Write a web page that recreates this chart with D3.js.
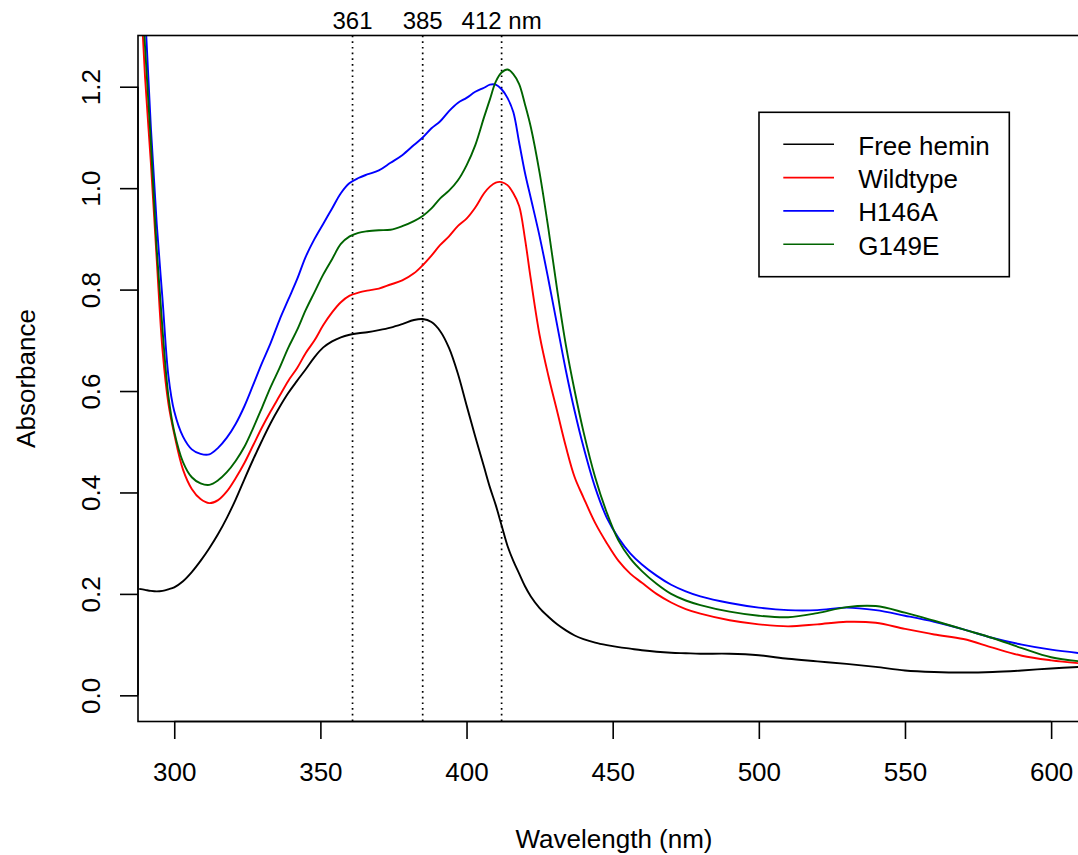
<!DOCTYPE html>
<html lang="en">
<head>
  <meta charset="UTF-8">
  <title>Absorbance spectra</title>
  <script src="https://d3js.org/d3.v7.min.js"></script>
  <style>
    body {
      margin: 0;
      background: #fff;
    }
    svg text {
      font-family: "Liberation Sans", Arial, Helvetica, sans-serif;
      fill: #000;
    }
  </style>
</head>
<body>
<svg width="1078" height="855"></svg>

<script>
  // shared wavelength grid (nm)
  const wavelength = [288, 290, 292, 294, 296, 298, 300, 303, 306, 309, 312, 315, 318, 321, 324, 327, 330, 333, 336, 339,
    342, 345, 348, 351, 354, 357, 360, 363, 366, 370, 374, 378, 382, 385, 388, 391, 394, 397, 400, 403, 406, 408, 410,
    412, 414, 416, 418, 420, 422, 425, 428, 431, 434, 437, 440, 444, 448, 452, 456, 460, 465, 470, 475, 480, 490, 500,
    510, 520, 530, 540, 550, 560, 570, 580, 590, 600, 610];

  const freeHemin = [0.210, 0.208, 0.206, 0.205, 0.206, 0.209, 0.213, 0.225, 0.243, 0.265, 0.290, 0.318, 0.350, 0.386,
    0.426, 0.465, 0.502, 0.537, 0.568, 0.596, 0.620, 0.643, 0.667, 0.686, 0.698, 0.706, 0.711, 0.714, 0.716, 0.720,
    0.725, 0.732, 0.740, 0.742, 0.736, 0.718, 0.685, 0.635, 0.572, 0.510, 0.450, 0.410, 0.375, 0.335, 0.295, 0.265,
    0.240, 0.215, 0.195, 0.172, 0.155, 0.140, 0.128, 0.118, 0.111, 0.104, 0.099, 0.095, 0.092, 0.089, 0.086, 0.084,
    0.083, 0.082, 0.082, 0.079, 0.072, 0.067, 0.062, 0.056, 0.049, 0.046, 0.045, 0.046, 0.049, 0.053, 0.056];

  const wildtype = [1.45, 1.22, 1.05, 0.86, 0.68, 0.575, 0.515, 0.445, 0.407, 0.387, 0.379, 0.385, 0.402, 0.428, 0.458,
    0.493, 0.528, 0.560, 0.590, 0.620, 0.645, 0.675, 0.700, 0.730, 0.755, 0.775, 0.788, 0.794, 0.798, 0.802, 0.810,
    0.818, 0.832, 0.848, 0.867, 0.888, 0.905, 0.925, 0.940, 0.962, 0.990, 1.003, 1.011, 1.012, 1.006, 0.990, 0.965,
    0.900, 0.820, 0.710, 0.630, 0.560, 0.490, 0.430, 0.390, 0.340, 0.300, 0.265, 0.240, 0.222, 0.200, 0.183, 0.170,
    0.161, 0.148, 0.140, 0.136, 0.140, 0.145, 0.143, 0.131, 0.120, 0.111, 0.094, 0.078, 0.069, 0.063];

  const h146a = [1.60, 1.35, 1.12, 0.93, 0.78, 0.63, 0.56, 0.510, 0.485, 0.476, 0.475, 0.488, 0.508, 0.535, 0.570,
    0.612, 0.655, 0.695, 0.740, 0.780, 0.820, 0.865, 0.900, 0.930, 0.960, 0.990, 1.010, 1.020, 1.027, 1.035, 1.050,
    1.065, 1.085, 1.100, 1.118, 1.132, 1.152, 1.168, 1.178, 1.190, 1.198, 1.204, 1.204, 1.195, 1.178, 1.150, 1.090,
    1.030, 0.980, 0.905, 0.820, 0.730, 0.640, 0.560, 0.490, 0.410, 0.350, 0.310, 0.280, 0.258, 0.236, 0.218, 0.205,
    0.195, 0.182, 0.173, 0.168, 0.168, 0.173, 0.168, 0.157, 0.145, 0.130, 0.113, 0.100, 0.090, 0.083];

  const g149e = [1.50, 1.28, 1.09, 0.88, 0.72, 0.59, 0.52, 0.460, 0.430, 0.418, 0.415, 0.424, 0.440, 0.462, 0.490,
    0.527, 0.567, 0.608, 0.645, 0.685, 0.720, 0.760, 0.795, 0.830, 0.860, 0.890, 0.905, 0.912, 0.915, 0.917, 0.918,
    0.925, 0.935, 0.945, 0.960, 0.980, 0.995, 1.015, 1.045, 1.085, 1.140, 1.175, 1.210, 1.228, 1.234, 1.225, 1.205,
    1.165, 1.120, 1.030, 0.920, 0.800, 0.690, 0.600, 0.520, 0.430, 0.360, 0.305, 0.270, 0.245, 0.220, 0.200, 0.187,
    0.178, 0.165, 0.157, 0.154, 0.162, 0.174, 0.176, 0.163, 0.147, 0.130, 0.113, 0.093, 0.075, 0.067];

  const seriesNames = ["Free hemin", "Wildtype", "H146A", "G149E"];
  const seriesColors = ["#000000", "#ff0000", "#0000ff", "#006400"];
  const seriesValues = [freeHemin, wildtype, h146a, g149e];

  const markerWavelengths = [361, 385, 412];
  const markerLabels = ["361", "385", "412 nm"];

  const xTicks = [300, 350, 400, 450, 500, 550, 600];
  const yTicks = [0, 0.2, 0.4, 0.6, 0.8, 1.0, 1.2];

  // plot region
  const plotLeft = 138, plotRight = 1090, plotTop = 35.5, plotBottom = 721.5;

  const svg = d3.select("svg");

  const x = d3.scaleLinear().domain([287.6, 613.3]).range([plotLeft, plotRight]);
  const y = d3.scaleLinear().domain([-0.0516, 1.301]).range([plotBottom, plotTop]);

  svg.append("defs").append("clipPath").attr("id", "plot-clip")
    .append("rect")
    .attr("x", plotLeft).attr("y", plotTop)
    .attr("width", plotRight - plotLeft).attr("height", plotBottom - plotTop);

  // dotted markers
  svg.append("g")
    .selectAll("line")
    .data(markerWavelengths)
    .enter()
    .append("line")
    .attr("x1", d => x(d)).attr("x2", d => x(d))
    .attr("y1", plotTop).attr("y2", plotBottom)
    .attr("stroke", "#000")
    .attr("stroke-width", 1.7)
    .attr("stroke-dasharray", "1.7,4");

  svg.append("g")
    .selectAll("text")
    .data(markerWavelengths)
    .enter()
    .append("text")
    .attr("x", d => x(d))
    .attr("y", 29)
    .attr("text-anchor", "middle")
    .attr("font-size", "24px")
    .text((d, i) => markerLabels[i]);

  // spectra
  const line = d3.line()
    .x((d, i) => x(wavelength[i]))
    .y(d => y(d))
    .curve(d3.curveCatmullRom.alpha(0.5));

  svg.append("g")
    .attr("clip-path", "url(#plot-clip)")
    .selectAll("path")
    .data(seriesValues)
    .enter()
    .append("path")
    .attr("d", d => line(d))
    .attr("fill", "none")
    .attr("stroke", (d, i) => seriesColors[i])
    .attr("stroke-width", 1.9)
    .attr("stroke-linejoin", "round");

  // box
  svg.append("rect")
    .attr("x", plotLeft).attr("y", plotTop)
    .attr("width", plotRight - plotLeft).attr("height", plotBottom - plotTop)
    .attr("fill", "none")
    .attr("stroke", "#000")
    .attr("stroke-width", 1.6);

  // x axis
  const xAxis = svg.append("g")
    .attr("transform", `translate(0,${plotBottom})`)
    .call(d3.axisBottom(x).tickValues(xTicks).tickSize(17.5).tickSizeOuter(0));
  xAxis.select(".domain").attr("d", `M${x(300)},0H${x(600)}`).attr("stroke-width", 1.6);
  xAxis.selectAll(".tick line").attr("stroke-width", 1.6);
  xAxis.selectAll(".tick text")
    .attr("y", 59).attr("dy", null)
    .attr("font-size", "26px")
    .attr("font-family", null);

  // y axis
  const yAxis = svg.append("g")
    .attr("transform", `translate(${plotLeft},0)`)
    .call(d3.axisLeft(y).tickValues(yTicks).tickSize(18).tickSizeOuter(0).tickFormat(d3.format(".1f")));
  yAxis.select(".domain").attr("d", `M0,${y(0)}V${y(1.2)}`).attr("stroke-width", 1.6);
  yAxis.selectAll(".tick line").attr("stroke-width", 1.6);
  yAxis.selectAll(".tick text")
    .attr("x", 0).attr("y", -38).attr("dy", null)
    .attr("transform", "rotate(-90)")
    .attr("text-anchor", "middle")
    .attr("font-size", "26px")
    .attr("font-family", null);

  // axis titles
  svg.append("text")
    .attr("x", (plotLeft + plotRight) / 2)
    .attr("y", 848)
    .attr("text-anchor", "middle")
    .attr("font-size", "26px")
    .text("Wavelength (nm)");

  svg.append("text")
    .attr("transform", `translate(35,${(plotTop + plotBottom) / 2}) rotate(-90)`)
    .attr("text-anchor", "middle")
    .attr("font-size", "26px")
    .text("Absorbance");

  // legend
  const legend = svg.append("g");
  legend.append("rect")
    .attr("x", 759).attr("y", 112.3)
    .attr("width", 250.3).attr("height", 164.4)
    .attr("fill", "#fff")
    .attr("stroke", "#000")
    .attr("stroke-width", 1.6);

  const rows = legend.selectAll("g.row")
    .data(seriesNames)
    .enter()
    .append("g")
    .attr("class", "row")
    .attr("transform", (d, i) => `translate(0,${144.3 + i * 33.3})`);

  rows.append("line")
    .attr("x1", 783.3).attr("x2", 834)
    .attr("stroke", (d, i) => seriesColors[i])
    .attr("stroke-width", 1.6);

  rows.append("text")
    .attr("x", 858.3)
    .attr("y", 10.3)
    .attr("font-size", "26px")
    .text(d => d);
</script>
</body>
</html>
